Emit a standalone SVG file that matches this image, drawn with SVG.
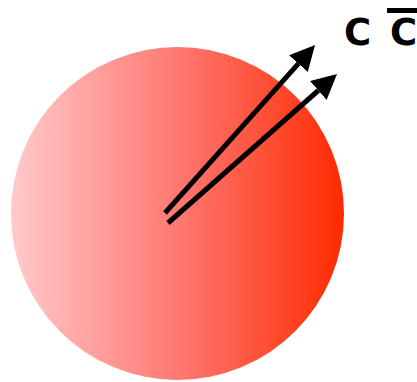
<svg xmlns="http://www.w3.org/2000/svg" width="417" height="382" viewBox="0 0 417 382">
<style>
.lbl{font-family:"DejaVu Sans",sans-serif;font-weight:bold;font-size:37px;fill:#000}
.arr{stroke:#000;stroke-width:5;fill:none;marker-end:url(#head)}
</style>
<defs>
<linearGradient id="g" x1="0" y1="0" x2="1" y2="0">
<stop offset="0" stop-color="#ffcaca"/>
<stop offset="0.5" stop-color="#ff7872"/>
<stop offset="1" stop-color="#ff2a00"/>
</linearGradient>
<marker id="head" markerUnits="userSpaceOnUse" markerWidth="26" markerHeight="26" refX="0" refY="12.5" orient="auto" viewBox="0 0 26 26">
<path d="M0,0 L25,12.5 L0,25 z" fill="#000"/>
</marker>
</defs>
<g id="ball">
<circle cx="177.5" cy="213.5" r="166.5" fill="url(#g)"/>
</g>
<g id="connectors">
<line class="arr" x1="165" y1="213" x2="298.4" y2="63.7"/>
<line class="arr" x1="168" y1="223" x2="318.3" y2="90.5"/>
</g>
<g id="labels">
<text class="lbl" x="344" y="45">C</text>
<text class="lbl" x="390" y="45">C</text>
<rect x="387" y="8" width="30" height="5" fill="#000"/>
</g>
</svg>
